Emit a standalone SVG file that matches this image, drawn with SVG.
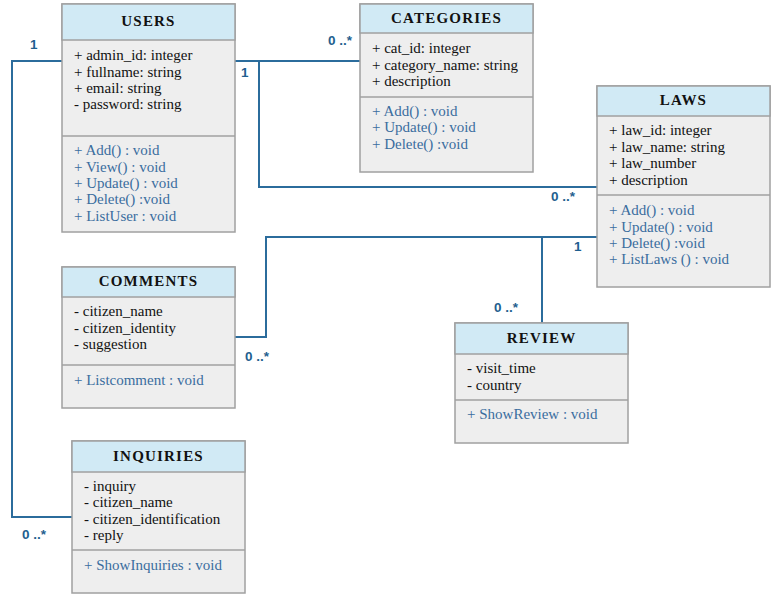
<svg xmlns="http://www.w3.org/2000/svg" width="783" height="610" viewBox="0 0 783 610">
<style>
.box{fill:#eeeeee;stroke:#a0a0a0;stroke-width:1.5}
.hdr{fill:#d1eaf5;stroke:#a0a0a0;stroke-width:1.5}
.sep{stroke:#a0a0a0;stroke-width:1.5}
.title{font-family:"Liberation Serif",serif;font-weight:bold;font-size:15px;letter-spacing:1.2px;text-anchor:middle;fill:#111}
.attr{font-family:"Liberation Serif",serif;font-size:15px;fill:#111}
.meth{font-family:"Liberation Serif",serif;font-size:15px;fill:#3a6d9e}
.conn{fill:none;stroke:#2b6c9c;stroke-width:2}
.mult{font-family:"Liberation Sans",sans-serif;font-weight:bold;font-size:13.5px;fill:#1f5f8f}
</style>
<rect width="783" height="610" fill="#ffffff"/>
<g id="connectors">
<polyline class="conn" points="62,61 12,61 12,517 72,517"/>
<polyline class="conn" points="235,61 360,61"/>
<polyline class="conn" points="259,61 259,187 597,187"/>
<polyline class="conn" points="597,237 266,237 266,337 235,337"/>
<polyline class="conn" points="542,237 542,323"/>
<text class="mult" x="30" y="49">1</text>
<text class="mult" x="22" y="539">0 ..*</text>
<text class="mult" x="328" y="45">0 ..*</text>
<text class="mult" x="241" y="77">1</text>
<text class="mult" x="551" y="201">0 ..*</text>
<text class="mult" x="574" y="251">1</text>
<text class="mult" x="245" y="361">0 ..*</text>
<text class="mult" x="494" y="312">0 ..*</text>
</g>
<g id="users">
<rect class="box" x="62" y="4" width="173" height="228"/>
<rect class="hdr" x="62" y="4" width="173" height="36"/>
<line class="sep" x1="62" y1="136" x2="235" y2="136"/>
<text class="title" x="148.5" y="26">USERS</text>
<text class="attr" x="74" y="60">+ admin_id: integer</text>
<text class="attr" x="74" y="77">+ fullname: string</text>
<text class="attr" x="74" y="93">+ email: string</text>
<text class="attr" x="74" y="109">- password: string</text>
<text class="meth" x="74" y="155">+ Add() : void</text>
<text class="meth" x="74" y="172">+ View() : void</text>
<text class="meth" x="74" y="188">+ Update() : void</text>
<text class="meth" x="74" y="204">+ Delete() :void</text>
<text class="meth" x="74" y="221">+ ListUser : void</text>
</g>
<g id="categories">
<rect class="box" x="360" y="4" width="173" height="168"/>
<rect class="hdr" x="360" y="4" width="173" height="29"/>
<line class="sep" x1="360" y1="97" x2="533" y2="97"/>
<text class="title" x="446.5" y="23">CATEGORIES</text>
<text class="attr" x="372" y="53">+ cat_id: integer</text>
<text class="attr" x="372" y="70">+ category_name: string</text>
<text class="attr" x="372" y="86">+ description</text>
<text class="meth" x="372" y="116">+ Add() : void</text>
<text class="meth" x="372" y="132">+ Update() : void</text>
<text class="meth" x="372" y="149">+ Delete() :void</text>
</g>
<g id="laws">
<rect class="box" x="597" y="86" width="173" height="201"/>
<rect class="hdr" x="597" y="86" width="173" height="30"/>
<line class="sep" x1="597" y1="195" x2="770" y2="195"/>
<text class="title" x="683.5" y="105">LAWS</text>
<text class="attr" x="609" y="135">+ law_id: integer</text>
<text class="attr" x="609" y="152">+ law_name: string</text>
<text class="attr" x="609" y="168">+ law_number</text>
<text class="attr" x="609" y="185">+ description</text>
<text class="meth" x="609" y="215">+ Add() : void</text>
<text class="meth" x="609" y="232">+ Update() : void</text>
<text class="meth" x="609" y="248">+ Delete() :void</text>
<text class="meth" x="609" y="264">+ ListLaws () : void</text>
</g>
<g id="comments">
<rect class="box" x="62" y="267" width="173" height="141"/>
<rect class="hdr" x="62" y="267" width="173" height="30"/>
<line class="sep" x1="62" y1="365" x2="235" y2="365"/>
<text class="title" x="148.5" y="286">COMMENTS</text>
<text class="attr" x="74" y="316">- citizen_name</text>
<text class="attr" x="74" y="333">- citizen_identity</text>
<text class="attr" x="74" y="349">- suggestion</text>
<text class="meth" x="74" y="385">+ Listcomment : void</text>
</g>
<g id="review">
<rect class="box" x="455" y="323" width="173" height="120"/>
<rect class="hdr" x="455" y="323" width="173" height="31"/>
<line class="sep" x1="455" y1="400" x2="628" y2="400"/>
<text class="title" x="541.5" y="343">REVIEW</text>
<text class="attr" x="467" y="373">- visit_time</text>
<text class="attr" x="467" y="390">- country</text>
<text class="meth" x="467" y="419">+ ShowReview : void</text>
</g>
<g id="inquiries">
<rect class="box" x="72" y="441" width="173" height="152"/>
<rect class="hdr" x="72" y="441" width="173" height="31"/>
<line class="sep" x1="72" y1="550" x2="245" y2="550"/>
<text class="title" x="158.5" y="461">INQUIRIES</text>
<text class="attr" x="84" y="491">- inquiry</text>
<text class="attr" x="84" y="507">- citizen_name</text>
<text class="attr" x="84" y="524">- citizen_identification</text>
<text class="attr" x="84" y="540">- reply</text>
<text class="meth" x="84" y="570">+ ShowInquiries : void</text>
</g>
</svg>
